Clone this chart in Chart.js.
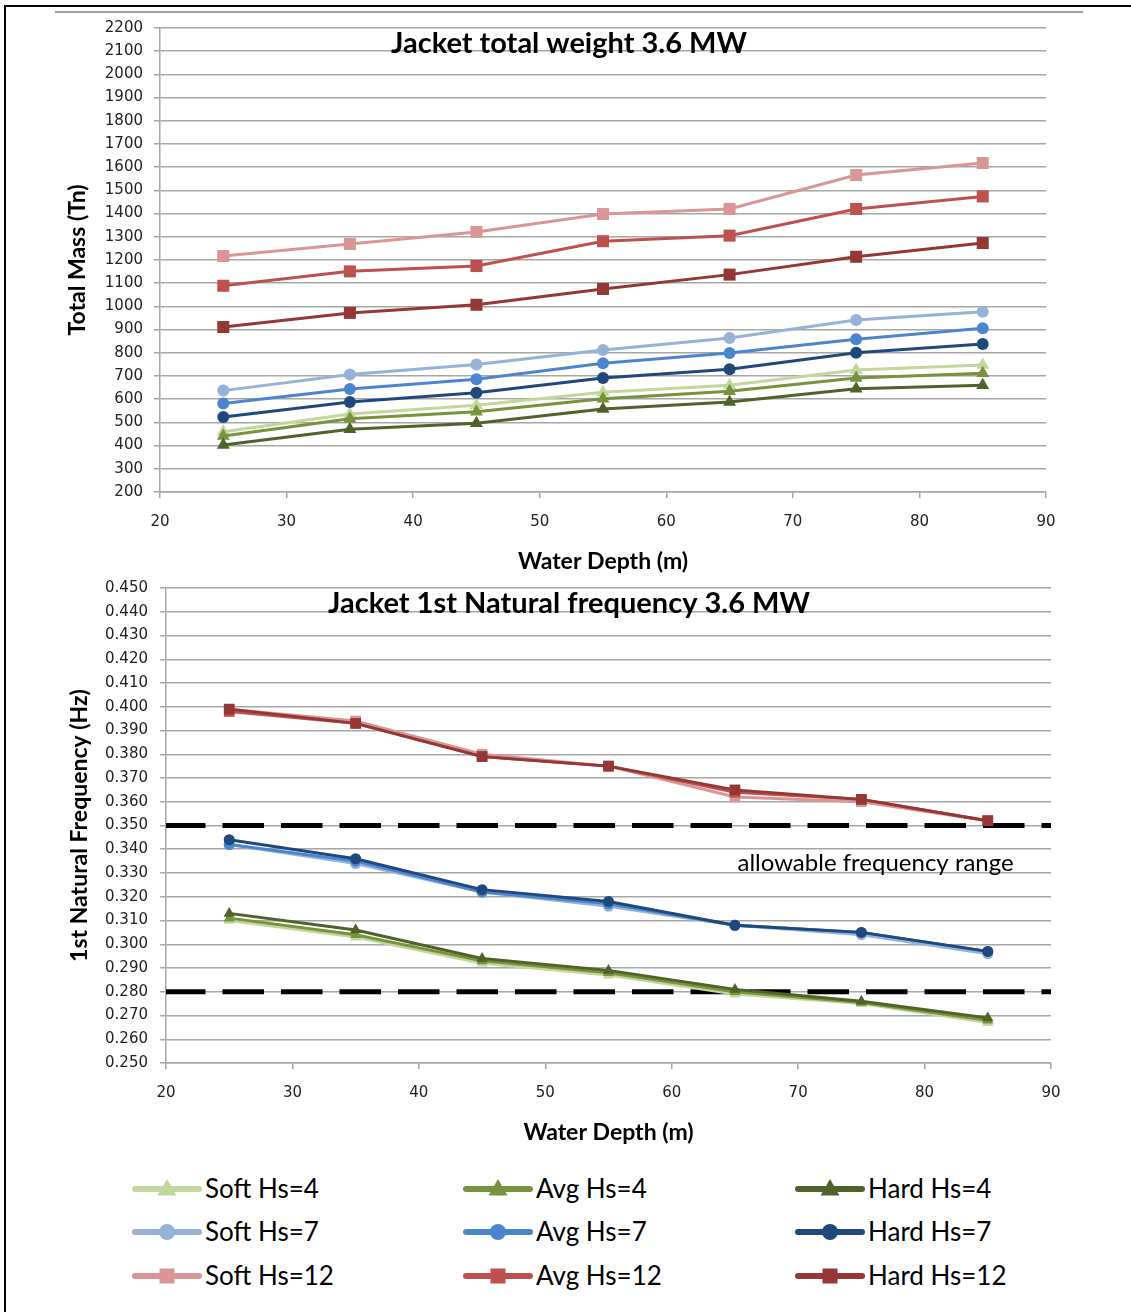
<!DOCTYPE html>
<html>
<head>
<meta charset="utf-8">
<script src="https://cdn.jsdelivr.net/npm/chart.js@4/dist/chart.umd.min.js"></script>
<style>
body{margin:0;background:#fff;}
#page{position:relative;width:1131px;height:1312px;overflow:hidden;background:#fff;}
.frameTop{position:absolute;left:4px;top:5px;width:1127px;height:2px;background:#000;}
.frameLeft{position:absolute;left:4px;top:5px;width:2px;height:1307px;background:#000;}
.rule{position:absolute;left:55px;top:11px;width:1028px;height:2px;background:#a0a0a0;}
#c1,#c2{position:absolute;left:0;}
#c1{top:0;}
#c2{top:560px;}
.leg{position:absolute;height:30px;font-family:Lato;font-size:26px;line-height:30px;color:#000;white-space:nowrap;}
.leg canvas{vertical-align:middle;margin-right:3px;position:relative;top:-2px;}
</style>
</head>
<body>
<div id="page">
  <div class="frameTop"></div>
  <div class="frameLeft"></div>
  <div class="rule"></div>
  <canvas id="c1" width="1131" height="578"></canvas>
  <canvas id="c2" width="1131" height="589"></canvas>
  <div id="legend"></div>
</div>
<script>
// water depth (m)
let depth = [25, 35, 45, 55, 65, 75, 85];

let seriesNames = ['Soft Hs=4', 'Avg Hs=4', 'Hard Hs=4',
                   'Soft Hs=7', 'Avg Hs=7', 'Hard Hs=7',
                   'Soft Hs=12', 'Avg Hs=12', 'Hard Hs=12'];

// total mass (Tn)
let massSoft4  = [460, 536, 574, 630, 660, 726, 747];
let massAvg4   = [441, 516, 546, 602, 634, 691, 712];
let massHard4  = [403, 470, 496, 558, 588, 645, 660];
let massSoft7  = [637, 706, 750, 812, 864, 941, 977];
let massAvg7   = [581, 644, 686, 755, 799, 858, 906];
let massHard7  = [523, 588, 628, 691, 729, 800, 838];
let massSoft12 = [1217, 1269, 1321, 1398, 1420, 1566, 1618];
let massAvg12  = [1089, 1151, 1174, 1281, 1305, 1420, 1474];
let massHard12 = [911, 972, 1007, 1075, 1137, 1214, 1273];

// 1st natural frequency (Hz)
let freqSoft4  = [0.310, 0.303, 0.292, 0.287, 0.279, 0.275, 0.267];
let freqAvg4   = [0.311, 0.304, 0.293, 0.288, 0.280, 0.2755, 0.268];
let freqHard4  = [0.313, 0.306, 0.294, 0.289, 0.281, 0.276, 0.269];
let freqSoft7  = [0.342, 0.334, 0.322, 0.316, 0.308, 0.304, 0.296];
let freqAvg7   = [0.342, 0.335, 0.322, 0.317, 0.308, 0.305, 0.297];
let freqHard7  = [0.344, 0.336, 0.323, 0.318, 0.308, 0.305, 0.297];
let freqSoft12 = [0.399, 0.394, 0.380, 0.375, 0.362, 0.360, 0.352];
let freqAvg12  = [0.398, 0.393, 0.379, 0.375, 0.364, 0.361, 0.352];
let freqHard12 = [0.399, 0.393, 0.379, 0.375, 0.365, 0.361, 0.352];

// allowable frequency limits
let freqLimits = [0.350, 0.280];
let depthRange = [20, 90];

let massList = [massSoft4, massAvg4, massHard4, massSoft7, massAvg7, massHard7, massSoft12, massAvg12, massHard12];
let freqList = [freqSoft4, freqAvg4, freqHard4, freqSoft7, freqAvg7, freqHard7, freqSoft12, freqAvg12, freqHard12];

let colores = ['#c3d69b', '#77933c', '#4f6228',
               '#95b3d7', '#4a86d0', '#1f497d',
               '#d99694', '#c0504d', '#953735'];
let marcas = ['triangle', 'triangle', 'triangle', 'circle', 'circle', 'circle', 'rect', 'rect', 'rect'];
let orden = [2, 1, 0, 2, 1, 0, 2, 1, 0];

let gris = '#a6a6a6';
let tickFont = {family: 'DejaVu Sans', size: 15};
let axisFont = {family: 'Lato', size: 23, weight: 'bold'};

function radio(estilo, big){
    if (estilo == 'circle') return big ? 6 : 5.5;
    if (estilo == 'triangle') return big ? 7.5 : 6.5;
    return big ? 8.5 : 7.5;
}

function makeSets(lista, big){
    return seriesNames.map(function(nombre, i){
        return {
            label: nombre,
            data: depth.map(function(d, j){ return {x: d, y: lista[i][j]}; }),
            borderColor: colores[i],
            backgroundColor: colores[i],
            borderWidth: 3,
            pointStyle: marcas[i],
            pointRadius: radio(marcas[i], big),
            pointBorderWidth: 0,
            order: orden[i]
        };
    });
}

let innerText = {
    id: 'innerText',
    afterDraw: function(chart, args, opts){
        let ctx = chart.ctx;
        ctx.save();
        ctx.fillStyle = '#000';
        ctx.textBaseline = 'middle';
        ctx.font = 'bold 29px Lato';
        ctx.textAlign = 'center';
        ctx.fillText(opts.title, opts.tx, opts.ty);
        if (opts.note) {
            ctx.font = '24px Lato';
            ctx.textAlign = 'left';
            ctx.fillText(opts.note,
                chart.scales.x.getPixelForValue(opts.noteAt[0]),
                chart.scales.y.getPixelForValue(opts.noteAt[1]));
        }
        ctx.restore();
    }
};

function xScale(){
    return {
        type: 'linear', min: depthRange[0], max: depthRange[1],
        ticks: {stepSize: 10, font: tickFont, color: '#222', padding: 15},
        grid: {drawOnChartArea: false, tickLength: 6, color: gris, lineWidth: 1.5},
        border: {color: gris, width: 1.5},
        title: {display: true, text: 'Water Depth (m)', font: axisFont, color: '#000', padding: {top: 0, bottom: 3}},
        afterFit: function(s){ s.height = 86; }
    };
}

var chart1 = new Chart(document.getElementById('c1').getContext('2d'), {
    type: 'line',
    data: {datasets: makeSets(massList, true)},
    options: {
        responsive: false, animation: false, devicePixelRatio: 1,
        layout: {padding: {left: 0, top: 28, right: 85, bottom: 0}},
        plugins: {
            legend: {display: false}, tooltip: {enabled: false},
            innerText: {title: 'Jacket total weight 3.6 MW', tx: 569, ty: 44}
        },
        scales: {
            x: xScale(),
            y: {
                min: 200, max: 2200,
                ticks: {stepSize: 100, font: tickFont, color: '#222', padding: 11,
                        callback: function(v){ return String(v); }},
                grid: {tickLength: 6, color: gris, lineWidth: 1.5},
                border: {color: gris, width: 1.5},
                title: {display: true, text: 'Total Mass (Tn)', font: axisFont, color: '#000', padding: {top: 64, bottom: 0}},
                afterFit: function(s){ s.width = 160; }
            }
        }
    },
    plugins: [innerText]
});

let sets2 = makeSets(freqList, false);
freqLimits.forEach(function(v){
    sets2.push({
        label: 'limit',
        data: depthRange.map(function(d){ return {x: d, y: v}; }),
        borderColor: '#000', borderWidth: 5,
        borderDash: [41.5, 17], borderDashOffset: 2,
        pointRadius: 0, order: 10
    });
});

var chart2 = new Chart(document.getElementById('c2').getContext('2d'), {
    type: 'line',
    data: {datasets: sets2},
    options: {
        responsive: false, animation: false, devicePixelRatio: 1,
        layout: {padding: {left: 0, top: 28, right: 80, bottom: 0}},
        plugins: {
            legend: {display: false}, tooltip: {enabled: false},
            innerText: {title: 'Jacket 1st Natural frequency 3.6 MW', tx: 569, ty: 44,
                        note: 'allowable frequency range', noteAt: [65.2, 0.3342]}
        },
        scales: {
            x: xScale(),
            y: {
                min: 0.25, max: 0.45,
                ticks: {stepSize: 0.01, font: tickFont, color: '#222', padding: 12,
                        callback: function(v){ return v.toFixed(3); }},
                grid: {tickLength: 6, color: gris, lineWidth: 1.5},
                border: {color: gris, width: 1.5},
                title: {display: true, text: '1st Natural Frequency (Hz)', font: axisFont, color: '#000', padding: {top: 66, bottom: 0}},
                afterFit: function(s){ s.width = 166; }
            }
        }
    },
    plugins: [innerText]
});

// legend, 3 columns x 3 rows
let legCols = [132, 463, 795];
let legRows = [1188, 1231, 1275];
let legend = document.getElementById('legend');
seriesNames.forEach(function(nombre, i){
    let item = document.createElement('div');
    item.className = 'leg';
    item.style.left = legCols[i % 3] + 'px';
    item.style.top = (legRows[Math.floor(i / 3)] - 15) + 'px';
    let c = document.createElement('canvas');
    c.width = 70; c.height = 24;
    let ctx = c.getContext('2d');
    ctx.strokeStyle = colores[i];
    ctx.fillStyle = colores[i];
    ctx.lineWidth = 6;
    ctx.lineCap = 'round';
    ctx.beginPath();
    ctx.moveTo(3, 12); ctx.lineTo(67, 12);
    ctx.stroke();
    ctx.beginPath();
    if (marcas[i] == 'circle') {
        ctx.arc(35, 12, 8, 0, Math.PI * 2);
    } else if (marcas[i] == 'triangle') {
        ctx.moveTo(35, 2); ctx.lineTo(44.5, 18.5); ctx.lineTo(25.5, 18.5); ctx.closePath();
    } else {
        ctx.rect(27.5, 4.5, 15, 15);
    }
    ctx.fill();
    item.appendChild(c);
    item.appendChild(document.createTextNode(nombre));
    legend.appendChild(item);
});
</script>
</body>
</html>
